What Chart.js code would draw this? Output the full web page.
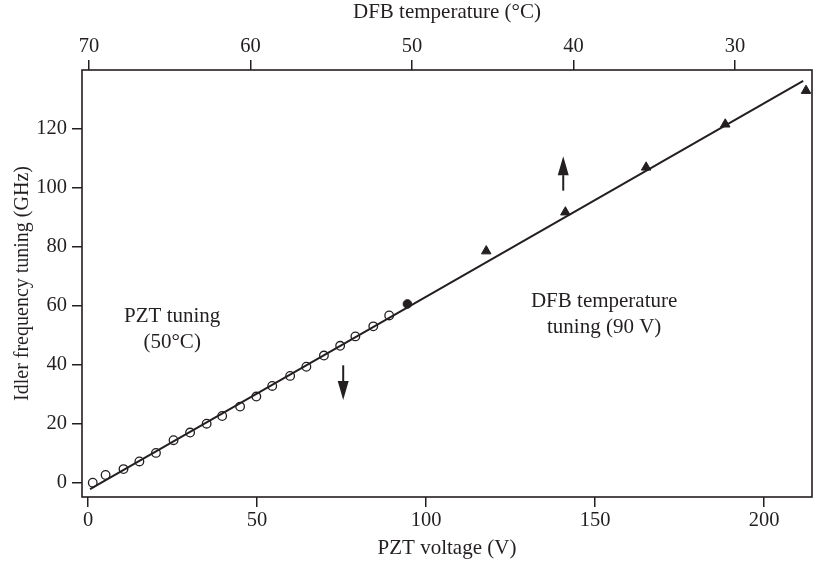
<!DOCTYPE html>
<html lang="en">
<head>
<meta charset="UTF-8">
<title>Idler frequency tuning</title>
<script src="https://cdn.jsdelivr.net/npm/chart.js"></script>
<style>
  body { margin: 0; background: #fff; }
  canvas { display: block; }
</style>
</head>
<body>
<canvas id="chartCanvas" width="814" height="564"></canvas>
<script>
// PZT tuning at 50 °C (open circles)
var pztVolt = [1.4, 5.2, 10.5, 15.2, 20.1, 25.3, 30.2, 35.1, 39.7, 45, 49.8, 54.5, 59.8, 64.6, 69.8, 74.6, 79.1, 84.4, 89.1];
var pztGHz  = [0.1, 2.7, 4.7, 7.3, 10.2, 14.5, 17.1, 20.1, 22.7, 25.9, 29.3, 32.9, 36.3, 39.4, 43.2, 46.5, 49.7, 53.1, 56.8];
// point shared by both scans (90 V, 50 °C)
var jointVolt = [94.5];
var jointGHz  = [60.7];
// DFB temperature tuning at 90 V (triangles), read on the top axis
var dfbTemp = [45.4, 40.5, 35.5, 30.6, 25.6];
var dfbGHz  = [78.6, 91.8, 107, 121.6, 133];
// straight-line fit
var fitVolt = [0.6, 211.6];
var fitGHz  = [-2.1, 136.3];

var voltTicks = [0, 50, 100, 150, 200];
var tempTicks = [70, 60, 50, 40, 30];
var ghzTicks  = [0, 20, 40, 60, 80, 100, 120];

// arrows: x in volts, from / to in GHz
var arrowVolt = [75.5, 140.6];
var arrowFrom = [39.9, 99.1];
var arrowTo   = [28.1, 110.8];

// notes: centre of first line, in volts / GHz
var noteVolt  = [24.9, 152.7];
var noteGHz   = [56.3, 61.4];
var noteLines = [["PZT tuning", "(50°C)"], ["DFB temperature", "tuning (90 V)"]];

var ink = '#231f20';
var serif = '"Liberation Serif", "DejaVu Serif", serif';

function pts(xs, ys) {
    return xs.map(function (v, i) { return { x: v, y: ys[i] }; });
}

var extras = {
    id: 'extras',
    afterDatasetsDraw: function (chart) {
        var ctx = chart.ctx, a = chart.chartArea;
        var sx = chart.scales.x, sy = chart.scales.y;
        ctx.save();
        ctx.strokeStyle = ink;
        ctx.fillStyle = ink;
        ctx.lineWidth = 1.6;
        ctx.strokeRect(a.left, a.top, a.right - a.left, a.bottom - a.top);

        // arrows
        for (var i = 0; i < arrowVolt.length; i++) {
            var px = sx.getPixelForValue(arrowVolt[i]);
            var y0 = sy.getPixelForValue(arrowFrom[i]);
            var y1 = sy.getPixelForValue(arrowTo[i]);
            var dir = y1 > y0 ? 1 : -1;
            var base = y1 - dir * 19;
            ctx.lineWidth = 2;
            ctx.beginPath();
            ctx.moveTo(px, y0);
            ctx.lineTo(px, base);
            ctx.stroke();
            ctx.beginPath();
            ctx.moveTo(px, y1);
            ctx.lineTo(px - 5.5, base);
            ctx.lineTo(px + 5.5, base);
            ctx.closePath();
            ctx.fill();
        }

        // notes
        ctx.font = '21px ' + serif;
        ctx.textAlign = 'center';
        ctx.textBaseline = 'middle';
        for (var j = 0; j < noteLines.length; j++) {
            var nx = sx.getPixelForValue(noteVolt[j]);
            var ny = sy.getPixelForValue(noteGHz[j]);
            noteLines[j].forEach(function (t, k) {
                ctx.fillText(t, nx, ny + k * 25.5);
            });
        }
        ctx.restore();
    }
};

function axisGrid() {
    return { drawOnChartArea: false, drawTicks: true, tickLength: 10, color: ink, lineWidth: 1.5 };
}

function fixSize(prop, size) {
    return function (s) {
        s[prop] = size;
        s.paddingLeft = 0; s.paddingRight = 0;
        s.paddingTop = 0; s.paddingBottom = 0;
    };
}

var ctx = document.getElementById('chartCanvas').getContext('2d');
new Chart(ctx, {
    type: 'scatter',
    data: {
        datasets: [
            {
                type: 'line',
                data: pts(fitVolt, fitGHz),
                borderColor: ink,
                borderWidth: 2,
                pointRadius: 0,
                fill: false,
                xAxisID: 'x', yAxisID: 'y'
            },
            {
                data: pts(pztVolt, pztGHz),
                pointStyle: 'circle',
                pointRadius: 4.3,
                borderColor: ink,
                borderWidth: 1.3,
                backgroundColor: 'rgba(0,0,0,0)',
                xAxisID: 'x', yAxisID: 'y'
            },
            {
                data: pts(jointVolt, jointGHz),
                pointStyle: 'circle',
                pointRadius: 4.3,
                borderColor: ink,
                borderWidth: 1,
                backgroundColor: ink,
                xAxisID: 'x', yAxisID: 'y'
            },
            {
                data: pts(dfbTemp, dfbGHz),
                pointStyle: 'triangle',
                pointRadius: 5.5,
                borderColor: ink,
                borderWidth: 1,
                backgroundColor: ink,
                xAxisID: 'xTop', yAxisID: 'y'
            }
        ]
    },
    options: {
        responsive: false,
        animation: false,
        layout: { autoPadding: false, padding: { left: 0, top: 0, bottom: 0, right: 2 } },
        plugins: { legend: { display: false }, tooltip: { enabled: false } },
        scales: {
            x: {
                type: 'linear', position: 'bottom',
                min: -1.78, max: 214.2, bounds: 'data',
                afterBuildTicks: function (s) { s.ticks = voltTicks.map(function (v) { return { value: v }; }); },
                afterFit: fixSize('height', 67),
                grid: axisGrid(),
                border: { display: false },
                ticks: { color: ink, font: { family: serif, size: 20.5 }, padding: 1, maxRotation: 0, autoSkip: false },
                title: { display: true, text: 'PZT voltage (V)', color: ink, font: { family: serif, size: 21 }, padding: { top: 0, bottom: 3 } }
            },
            xTop: {
                type: 'linear', position: 'top', reverse: true,
                min: 25.23, max: 70.43, bounds: 'data',
                afterBuildTicks: function (s) { s.ticks = tempTicks.map(function (v) { return { value: v }; }); },
                afterFit: fixSize('height', 70),
                grid: axisGrid(),
                border: { display: false },
                ticks: { color: ink, font: { family: serif, size: 20.5 }, padding: 1, maxRotation: 0, autoSkip: false },
                title: { display: true, text: 'DFB temperature (°C)', color: ink, font: { family: serif, size: 21 }, padding: { top: 0, bottom: 0 } }
            },
            y: {
                type: 'linear', position: 'left',
                min: -4.75, max: 140, bounds: 'data',
                afterBuildTicks: function (s) { s.ticks = ghzTicks.map(function (v) { return { value: v }; }); },
                afterFit: fixSize('width', 82),
                grid: axisGrid(),
                border: { display: false },
                ticks: { color: ink, font: { family: serif, size: 20.5 }, padding: 5, autoSkip: false },
                title: { display: true, text: 'Idler frequency tuning (GHz)', color: ink, font: { family: serif, size: 20 }, padding: { top: 11, bottom: 0 } }
            }
        }
    },
    plugins: [extras]
});
</script>
</body>
</html>
